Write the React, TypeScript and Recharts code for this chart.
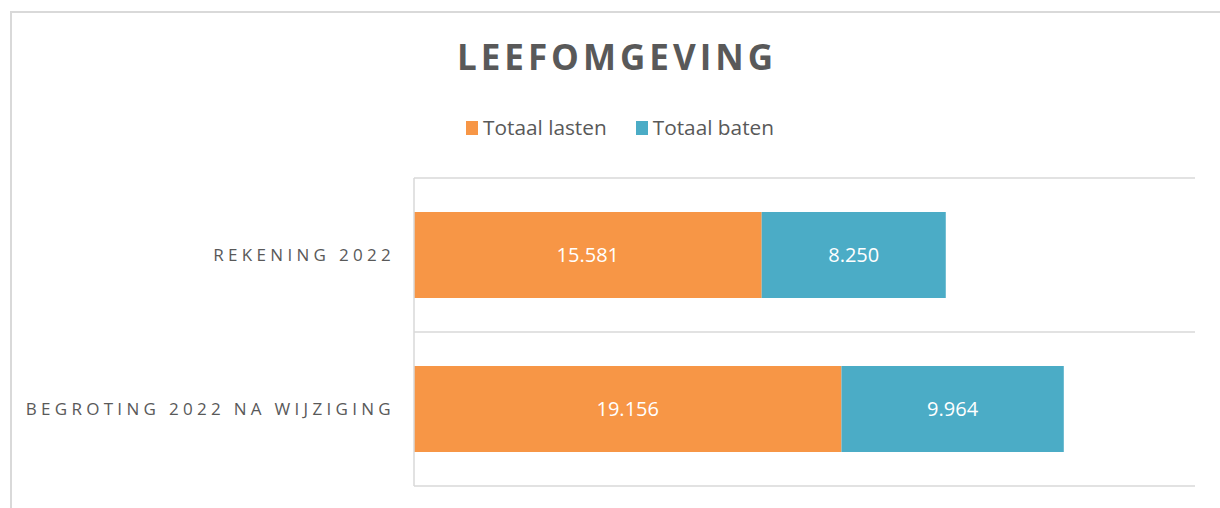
import { BarChart, Bar, XAxis, YAxis, CartesianGrid, LabelList } from "recharts";

const categories = ["REKENING 2022", "BEGROTING 2022 NA WIJZIGING"];
const lasten = [15581, 19156];
const baten = [8250, 9964];

const series = [
  { key: "lasten", name: "Totaal lasten", color: "#F79646" },
  { key: "baten", name: "Totaal baten", color: "#4BACC6" },
];

const data = categories.map((name, i) => ({ name, lasten: lasten[i], baten: baten[i] }));

const fmt = (v: number) => String(v).replace(/\B(?=(\d{3})+(?!\d))/g, ".");

const FONT = "'Open Sans', sans-serif";

function CategoryTick(props: any) {
  const { x, y, payload } = props;
  return (
    <text
      x={x}
      y={y}
      dy={6}
      textAnchor="end"
      fill="#595959"
      fontSize={17}
      fontFamily={FONT}
      letterSpacing={4.3}
    >
      {payload.value}
    </text>
  );
}

export default function App() {
  return (
    <div style={{ position: "absolute", left: 0, top: 0, width: 1220, height: 508, background: "#fff" }}>
      <div
        style={{
          position: "absolute",
          left: 10,
          top: 11,
          right: 0,
          bottom: 0,
          borderTop: "2px solid #d9d9d9",
          borderLeft: "2px solid #d9d9d9",
        }}
      />
      <div
        style={{
          position: "absolute",
          top: 35,
          left: 0,
          width: 1234,
          textAlign: "center",
          fontFamily: FONT,
          fontWeight: 700,
          fontSize: 35,
          letterSpacing: 4,
          color: "#595959",
          lineHeight: "44px",
        }}
      >
        LEEFOMGEVING
      </div>
      <div
        style={{
          position: "absolute",
          top: 112,
          left: 466,
          display: "flex",
          gap: 29,
          fontFamily: FONT,
          fontSize: 20.8,
          lineHeight: "30px",
          color: "#595959",
        }}
      >
        {series.map((s) => (
          <div key={s.key} style={{ display: "flex", alignItems: "center" }}>
            <span style={{ display: "inline-block", width: 12, height: 14, background: s.color, marginRight: 5, marginTop: 2 }} />
            <span>{s.name}</span>
          </div>
        ))}
      </div>
      <div style={{ position: "absolute", left: 0, top: 0 }}>
        <BarChart
          width={1220}
          height={508}
          data={data}
          layout="vertical"
          margin={{ top: 178, right: 25, bottom: 22, left: 0 }}
          barSize={86}
        >
          <CartesianGrid
            vertical={false}
            stroke="#d9d9d9"
            strokeWidth={1.5}
            horizontalCoordinatesGenerator={({ offset }: any) =>
              data.map((_, i) => offset.top + (offset.height * i) / data.length).concat(offset.top + offset.height)
            }
          />
          <XAxis type="number" domain={[0, 35000]} hide />
          <YAxis
            type="category"
            dataKey="name"
            width={414}
            axisLine={{ stroke: "#d9d9d9", strokeWidth: 1.5 }}
            tickLine={false}
            tickSize={0}
            tickMargin={19}
            tick={<CategoryTick />}
          />
          {series.map((s) => (
            <Bar key={s.key} dataKey={s.key} name={s.name} stackId="a" fill={s.color} isAnimationActive={false}>
              <LabelList
                dataKey={s.key}
                position="center"
                fill="#ffffff"
                fontSize={20}
                fontFamily={FONT}
                formatter={(v: any) => fmt(Number(v))}
              />
            </Bar>
          ))}
        </BarChart>
      </div>
    </div>
  );
}
